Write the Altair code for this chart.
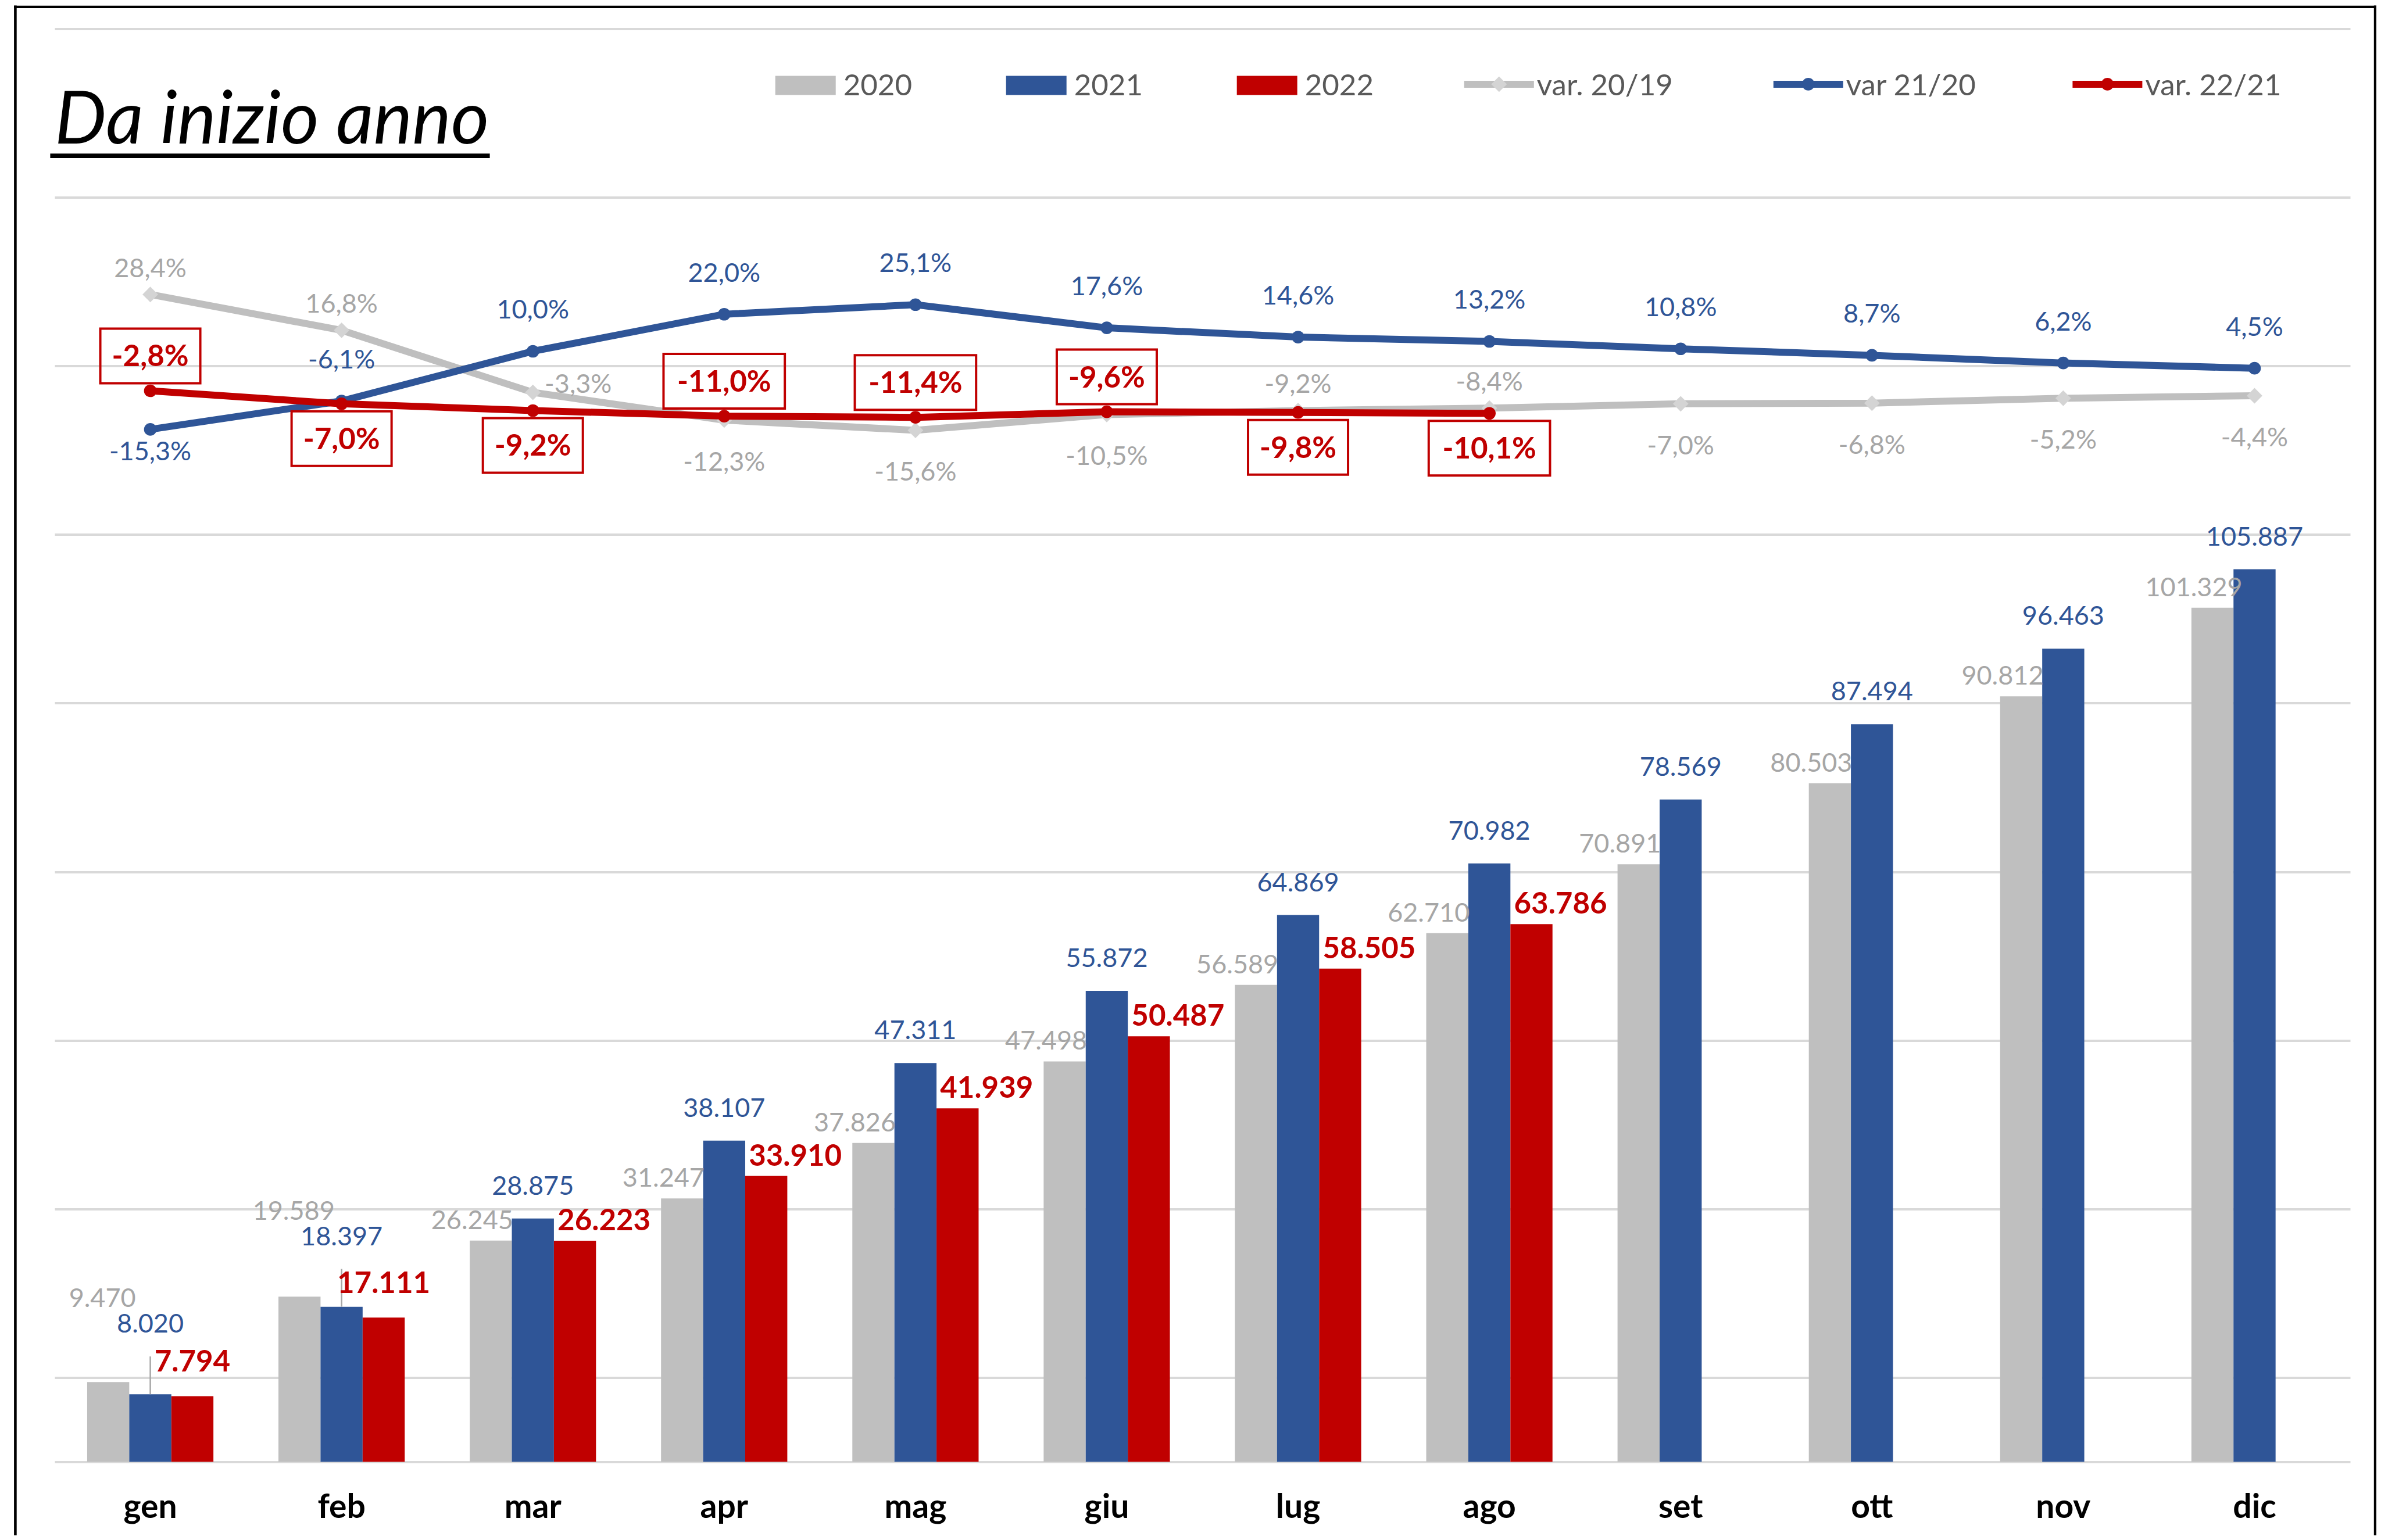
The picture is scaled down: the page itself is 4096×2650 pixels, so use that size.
import altair as alt
import pandas as pd

# ---------------- data ----------------
months = ["gen", "feb", "mar", "apr", "mag", "giu", "lug", "ago", "set", "ott", "nov", "dic"]
series_years = ["2020", "2021", "2022"]
ytd_2020 = [9470, 19589, 26245, 31247, 37826, 47498, 56589, 62710, 70891, 80503, 90812, 101329]
ytd_2021 = [8020, 18397, 28875, 38107, 47311, 55872, 64869, 70982, 78569, 87494, 96463, 105887]
ytd_2022 = [7794, 17111, 26223, 33910, 41939, 50487, 58505, 63786]
var_20_19 = [28.4, 16.8, -3.3, -12.3, -15.6, -10.5, -9.2, -8.4, -7.0, -6.8, -5.2, -4.4]
var_21_20 = [-15.3, -6.1, 10.0, 22.0, 25.1, 17.6, 14.6, 13.2, 10.8, 8.7, 6.2, 4.5]
var_22_21 = [-2.8, -7.0, -9.2, -11.0, -11.4, -9.6, -9.8, -10.1]
var_names = ["var. 20/19", "var 21/20", "var. 22/21"]
# which side of the point each percentage label sits on
var_20_19_side = ["above", "above", "right", "below", "below", "below", "above", "above",
                  "below", "below", "below", "below"]
var_21_20_side = ["below"] + ["above"] * 11
var_22_21_side = ["above", "below", "below", "above", "above", "above", "below", "below"]
title_text = "Da inizio anno"

# ---------------- style / layout ----------------
GRAY, BLUE, RED = "#BFBFBF", "#2F5597", "#C00000"
GRAY_MARK = "#D4D4D4"
GRID = "#D9D9D9"
GRAY_TXT = "#A6A6A6"
LEG_TXT = "#595959"
FONT = "Lato"

PLOT_W, PLOT_H = 3949, 2466
SVG_W, SVG_H = 4080, 2634
PAD_L, PAD_T = 86, 41.5
PAD_R = SVG_W - PAD_L - PLOT_W
PAD_B = SVG_H - PAD_T - PLOT_H

BAR_MAX = 170000
PCT_DOMAIN = [-349.7, 114.46]
P_IN, P_OUT = 0.34, 0.17
STEP = PLOT_W / (len(months) - P_IN + 2 * P_OUT)
BAR_W = STEP * (1 - P_IN) / 3
UNITS_PER_PX = BAR_MAX / PLOT_H

LBL_SIZE = 45
RED_LBL_SIZE = 51
LINE_W = 12
DOT_SIZE = 470
DIAMOND_SIZE = 720
BOX_H = 94
BOX_SIZE = BOX_H ** 2


def it_int(v):
    return f"{v:,}".replace(",", ".")


def it_pct(v):
    return f"{v:.1f}".replace(".", ",") + "%"


# ---------------- tables ----------------
bar_rows = []
for yr, vals in zip(series_years, [ytd_2020, ytd_2021, ytd_2022]):
    for m, v in zip(months, vals):
        bar_rows.append({"month": m, "series": yr, "value": v})
bars_df = pd.DataFrame(bar_rows)

pad22 = ytd_2022 + [None] * (len(months) - len(ytd_2022))
wide_df = pd.DataFrame({
    "month": months,
    "v2020": ytd_2020,
    "v2021": ytd_2021,
    "v2022": pad22,
    "l2020": [it_int(v) for v in ytd_2020],
    "l2021": [it_int(v) for v in ytd_2021],
    "l2022": [it_int(v) if v is not None else "" for v in pad22],
})


def var_df(vals, sides):
    return pd.DataFrame({
        "month": months[:len(vals)],
        "value": vals,
        "label": [it_pct(v) for v in vals],
        "side": sides,
    })


df_g = var_df(var_20_19, var_20_19_side)
df_b = var_df(var_21_20, var_21_20_side)
df_r = var_df(var_22_21, var_22_21_side)

# ---------------- scales / axes ----------------
x_scale = alt.Scale(type="band", domain=months, paddingInner=P_IN, paddingOuter=P_OUT)
x_axis = alt.Axis(title=None, labelAngle=0, labelFont=FONT, labelFontSize=57,
                  labelFontWeight="bold", labelColor="#000000", labelPadding=96,
                  labelBaseline="alphabetic", ticks=False, domainColor=GRID,
                  domainWidth=4, labelOverlap=False, grid=False)
y_bar_scale = alt.Scale(domain=[0, BAR_MAX], nice=False, zero=True)
y_bar_axis = alt.Axis(values=list(range(10000, BAR_MAX + 1, 20000)), grid=True,
                      gridColor=GRID, gridWidth=4, labels=False, ticks=False,
                      domain=False, title=None)
y_pct_scale = alt.Scale(domain=PCT_DOMAIN, nice=False, zero=False)


def xc():
    return alt.X("month:N", scale=x_scale, axis=x_axis, bandPosition=0.5)


def yb(field):
    return alt.Y(field, scale=y_bar_scale, axis=y_bar_axis)


# ---------------- bars + their labels ----------------
bars = alt.Chart(bars_df).mark_bar().encode(
    x=alt.X("month:N", scale=x_scale, axis=x_axis),
    xOffset=alt.XOffset("series:N", scale=alt.Scale(domain=series_years, paddingInner=0, paddingOuter=0)),
    y=yb("value:Q"),
    color=alt.Color("series:N", scale=alt.Scale(domain=series_years, range=[GRAY, BLUE, RED]), legend=None),
)

# when 2020 tops 2021 the three labels are stacked above the group
crowded = "datum.v2020 >= datum.v2021"
lift_blue = 65 * UNITS_PER_PX
lift_gray = 130 * UNITS_PER_PX

lab_base = alt.Chart(wide_df).transform_calculate(
    crowd=f"{crowded} ? 1 : 0",
    a2020=f"{crowded} ? datum.v2021 + {lift_gray} : datum.v2020",
    a2021=f"{crowded} ? datum.v2021 + {lift_blue} : datum.v2021",
)

leader = lab_base.transform_filter("datum.crowd == 1").mark_rule(
    color=GRAY_TXT, strokeWidth=2.5
).encode(x=xc(), y=yb("v2021:Q"), y2="a2021:Q")

lbl_2020_side = lab_base.transform_filter("datum.crowd == 0").mark_text(
    font=FONT, fontSize=LBL_SIZE, color=GRAY_TXT, dx=-BAR_W - 32, dy=-34, baseline="middle"
).encode(x=xc(), y=yb("a2020:Q"), text="l2020:N")
lbl_2020_stack = lab_base.transform_filter("datum.crowd == 1").mark_text(
    font=FONT, fontSize=LBL_SIZE, color=GRAY_TXT, dx=-BAR_W - 10, dy=-34, baseline="middle"
).encode(x=xc(), y=yb("a2020:Q"), text="l2020:N")

lbl_2021 = lab_base.mark_text(font=FONT, fontSize=LBL_SIZE, color=BLUE, dy=-55, baseline="middle").encode(
    x=xc(), y=yb("a2021:Q"), text="l2021:N")

red_base = lab_base.transform_filter("isValid(datum.v2022)")
lbl_2022_side = red_base.transform_filter("datum.crowd == 0").mark_text(
    font=FONT, fontSize=RED_LBL_SIZE, fontWeight="bold", color=RED, dx=BAR_W + 50, dy=-33, baseline="middle"
).encode(x=xc(), y=yb("v2022:Q"), text="l2022:N")
lbl_2022_stack = red_base.transform_filter("datum.crowd == 1").mark_text(
    font=FONT, fontSize=RED_LBL_SIZE, fontWeight="bold", color=RED, dx=BAR_W, dy=-57, baseline="middle"
).encode(x=xc(), y=yb("v2022:Q"), text="l2022:N")

bar_group = alt.layer(bars, leader, lbl_2020_side, lbl_2020_stack, lbl_2021, lbl_2022_side, lbl_2022_stack)

# ---------------- lines ----------------
def yp():
    return alt.Y("value:Q", scale=y_pct_scale, axis=None)


def line_layers(df, color, shape, size, fill):
    ln = alt.Chart(df).mark_line(color=color, strokeWidth=LINE_W).encode(x=xc(), y=yp())
    pt = alt.Chart(df).mark_point(filled=True, shape=shape, size=size, color=fill, opacity=1).encode(x=xc(), y=yp())
    return [ln, pt]


def text_side(df, side, color, dx, dy, size=LBL_SIZE, weight="normal"):
    return alt.Chart(df).transform_filter(f"datum.side == '{side}'").mark_text(
        font=FONT, fontSize=size, fontWeight=weight, color=color, dx=dx, dy=dy, baseline="middle"
    ).encode(x=xc(), y=yp(), text="label:N")


line_parts = []
line_parts += line_layers(df_g, GRAY, "diamond", DIAMOND_SIZE, GRAY_MARK)
line_parts += line_layers(df_b, BLUE, "circle", DOT_SIZE, BLUE)
line_parts += line_layers(df_r, RED, "circle", DOT_SIZE, RED)

label_parts = [
    text_side(df_g, "above", GRAY_TXT, 0, -44),
    text_side(df_g, "below", GRAY_TXT, 0, 73),
    text_side(df_g, "right", GRAY_TXT, 78, -13),
    text_side(df_b, "above", BLUE, 0, -70),
    text_side(df_b, "below", BLUE, 0, 39),
]

box_base = alt.Chart(df_r).transform_calculate(
    hw="0.39 * length(datum.label) - 0.12"
).transform_calculate(
    box_path="'M' + (-datum.hw) + ',-1L' + datum.hw + ',-1L' + datum.hw + ',1L' + (-datum.hw) + ',1Z'"
)
box_parts = []
for side, off in [("above", -60), ("below", 60)]:
    box_parts.append(
        box_base.transform_filter(f"datum.side == '{side}'").mark_point(
            filled=False, stroke=RED, color=RED, strokeWidth=4, size=BOX_SIZE, opacity=1, yOffset=off
        ).encode(x=xc(), y=yp(), shape=alt.Shape("box_path:N", scale=None, legend=None))
    )
    box_parts.append(text_side(df_r, side, RED, 0, off + 3, size=RED_LBL_SIZE, weight="bold"))

line_group = alt.layer(*line_parts, *label_parts, *box_parts)

# ---------------- decorations: title, frame, legend ----------------
deco_df = pd.DataFrame({"k": [0]})


def deco():
    return alt.Chart(deco_df)


deco_layers = []
deco_layers.append(deco().mark_text(text=title_text, font=FONT, fontSize=126, fontStyle="italic",
                                    fontWeight="normal", color="#000000", align="left", baseline="alphabetic")
                   .encode(x=alt.value(0), y=alt.value(197)))
deco_layers.append(deco().mark_rule(color="#000000", strokeWidth=7.8)
                   .encode(x=alt.value(-7.6), x2=alt.value(748.6), y=alt.value(218.7)))
# outer frame
deco_layers.append(deco().mark_rule(color="#000000", strokeWidth=4.4)
                   .encode(x=alt.value(-70), x2=alt.value(3995), y=alt.value(-37.6)))
deco_layers.append(deco().mark_rule(color="#000000", strokeWidth=4.6)
                   .encode(x=alt.value(-67.6), y=alt.value(-40), y2=alt.value(PLOT_H + 200)))
deco_layers.append(deco().mark_rule(color="#000000", strokeWidth=4.4)
                   .encode(x=alt.value(3992), y=alt.value(-40), y2=alt.value(PLOT_H + 200)))

# legend
LEG_TOP, LEG_BOT, LEG_MID = 81, 114, 95.4
SW_W, LN_W = 104, 120
bar_leg_x = [1239.7, 1636.7, 2033.7]
line_leg_x = [2424.8, 2956.8, 3471.4]
for x0, name, col in zip(bar_leg_x, series_years, [GRAY, BLUE, RED]):
    deco_layers.append(deco().mark_rect(color=col)
                       .encode(x=alt.value(x0), x2=alt.value(x0 + SW_W), y=alt.value(LEG_TOP), y2=alt.value(LEG_BOT)))
    deco_layers.append(deco().mark_text(text=name, font=FONT, fontSize=51, color=LEG_TXT, align="left",
                                        baseline="alphabetic")
                       .encode(x=alt.value(x0 + SW_W + 13), y=alt.value(LEG_BOT)))
for x0, name, col, shp, sz, fill in zip(line_leg_x, var_names, [GRAY, BLUE, RED],
                                        ["diamond", "circle", "circle"], [DIAMOND_SIZE, DOT_SIZE, DOT_SIZE],
                                        [GRAY_MARK, BLUE, RED]):
    deco_layers.append(deco().mark_rule(color=col, strokeWidth=LINE_W)
                       .encode(x=alt.value(x0), x2=alt.value(x0 + LN_W), y=alt.value(LEG_MID)))
    deco_layers.append(deco().mark_point(filled=True, shape=shp, size=sz, color=fill, opacity=1)
                       .encode(x=alt.value(x0 + LN_W / 2), y=alt.value(LEG_MID)))
    deco_layers.append(deco().mark_text(text=name, font=FONT, fontSize=51, color=LEG_TXT, align="left",
                                        baseline="alphabetic")
                       .encode(x=alt.value(x0 + LN_W + 5), y=alt.value(LEG_BOT)))

chart = alt.layer(bar_group, line_group, *deco_layers).resolve_scale(y="independent").properties(
    width=PLOT_W,
    height=PLOT_H,
    autosize=alt.AutoSizeParams(type="none"),
    padding={"left": PAD_L, "top": PAD_T, "right": PAD_R, "bottom": PAD_B},
    background="white",
).configure(font=FONT).configure_view(stroke=None)

chart.save("out.html", embed_options={"renderer": "svg", "actions": False})
